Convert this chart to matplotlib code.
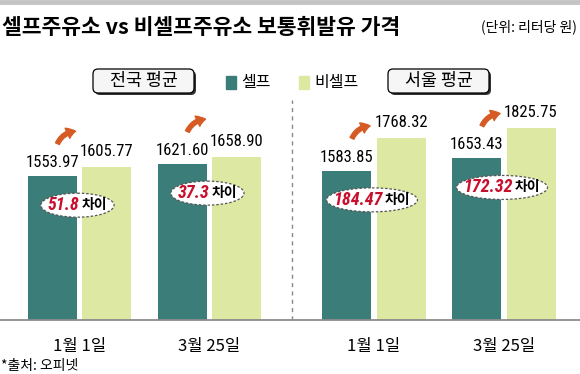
import matplotlib.pyplot as plt
import numpy as np
from matplotlib import font_manager
from matplotlib.patches import Ellipse, FancyArrowPatch, FancyBboxPatch, Rectangle

plt.rcParams['font.family'] = ['Noto Sans CJK KR', 'DejaVu Sans']

# data
title = "셀프주유소 vs 비셀프주유소 보통휘발유 가격"
unit = "(단위: 리터당 원)"
source = "*출처: 오피넷"
regions = ["전국 평균", "서울 평균"]
series = ["셀프", "비셀프"]
dates = ["1월 1일", "3월 25일", "1월 1일", "3월 25일"]
self_price = [1553.97, 1621.60, 1583.85, 1653.43]
nonself_price = [1605.77, 1658.90, 1768.32, 1825.75]

teal = "#3b7d78"
lime = "#dde8a2"

# numbers in the original are set in a narrow face; use one if we have it
names = {f.name for f in font_manager.fontManager.ttflist}
num_kw = dict(family=['Liberation Sans', 'DejaVu Sans'], fontsize=10)
diff_size = 12
for cand in ['Liberation Sans Narrow', 'Roboto Condensed', 'Open Sans Condensed', 'Arial Narrow']:
    if cand in names:
        num_kw = dict(family=[cand, 'DejaVu Sans'], fontsize=12)
        diff_size = 13
        break

fig = plt.figure(figsize=(5.8, 3.74), dpi=100)
ax = fig.add_axes([0, 54 / 374, 1, 220 / 374])
ov = fig.add_axes([0, 0, 1, 1])  # overlay in pixel units (y down)
ov.set_xlim(0, 580)
ov.set_ylim(374, 0)
ov.axis('off')
ov.patch.set_alpha(0)

# two panels, a little extra space between them
x = np.arange(4) + np.repeat([0, 0.266], 2)
w = 0.377
off = 0.2085

ax.bar(x - off, self_price, w, color=teal, zorder=2)
ax.bar(x + off, nonself_price, w, color=lime, zorder=2)
ax.set_xlim(-0.611, 3.851)
ax.set_ylim(748, 1981)
ax.axvline((x[1] + x[2]) / 2, color='#888888', lw=1, ls=(0, (3, 3)))
for s in ['top', 'left', 'right']:
    ax.spines[s].set_visible(False)
ax.spines['bottom'].set_color('#8c8c8c')
ax.spines['bottom'].set_linewidth(1.3)
ax.set_yticks([])
ax.set_xticks(x, dates, fontsize=12)
ax.tick_params(axis='x', length=0, pad=13)

# value labels
for xi, v in zip(x - off, self_price):
    ax.annotate(f"{v:.2f}", (xi, v), xytext=(0, 6), textcoords='offset pixels',
                ha='center', va='bottom', **num_kw)
for xi, v in zip(x + off, nonself_price):
    ax.annotate(f"{v:.2f}", (xi, v), xytext=(0, 8), textcoords='offset pixels',
                ha='center', va='bottom', **num_kw)


def to_px(px, py):
    return ov.transData.inverted().transform(ax.transData.transform((px, py)))


renderer = fig.canvas.get_renderer()

# difference ellipses + arrows
for gx, s, n in zip(x, self_price, nonself_price):
    diff = f"{n - s:.2f}".rstrip('0').rstrip('.')
    sx, sy = to_px(gx - off, s)
    cx, cy = to_px(gx, s)
    cx -= 2
    cy += 29
    t1 = ov.text(0, cy, diff, color='#c8102e', fontsize=diff_size, fontweight='bold',
                 fontstyle='italic', family=num_kw['family'], ha='left', va='center', zorder=5)
    t2 = ov.text(0, cy, "차이", fontsize=10, fontweight='bold', ha='left',
                 va='center', zorder=5)
    w1 = t1.get_window_extent(renderer).width
    w2 = t2.get_window_extent(renderer).width
    total = w1 + 2 + w2
    t1.set_x(cx - total / 2)
    t2.set_x(cx - total / 2 + w1 + 2)
    ov.add_patch(Ellipse((cx, cy), total + 14, 24, fc='white', ec='#555555',
                         lw=0.9, ls=(0, (2, 1.5)), zorder=4))
    arr = FancyArrowPatch((sx + 4, sy - 30), (sx + 26, sy - 45),
                          arrowstyle='simple,head_length=6,head_width=8,tail_width=3',
                          connectionstyle='arc3,rad=-0.35', color='#d65a24', zorder=5)
    ov.add_patch(arr)

# header
ov.axhline(2, color='#c4c4c4', lw=3.5)
ov.text(2, 27, title, fontsize=15.5, fontweight='bold', va='center')
ov.text(577, 27, unit, fontsize=10, ha='right', va='center')
ov.text(1, 366, source, fontsize=10, va='center')

# panel name boxes
for bx, name in zip([93, 388], regions):
    ov.add_patch(FancyBboxPatch((bx + 2, 71), 101, 24, boxstyle='round,pad=0,rounding_size=5',
                                fc='#333333', ec='none'))
    ov.add_patch(FancyBboxPatch((bx, 69), 101, 24, boxstyle='round,pad=0,rounding_size=5',
                                fc='#f6f6f6', ec='black', lw=0.9))
    ov.text(bx + 50.5, 81, name, fontsize=12.5, ha='center', va='center')

# legend
for lx, col, name in zip([226, 299], [teal, lime], series):
    ov.add_patch(Rectangle((lx, 76), 10, 13, color=col))
    ov.text(lx + 15, 82.5, name, fontsize=11.5, va='center')

fig.savefig('out.png', dpi=100)
